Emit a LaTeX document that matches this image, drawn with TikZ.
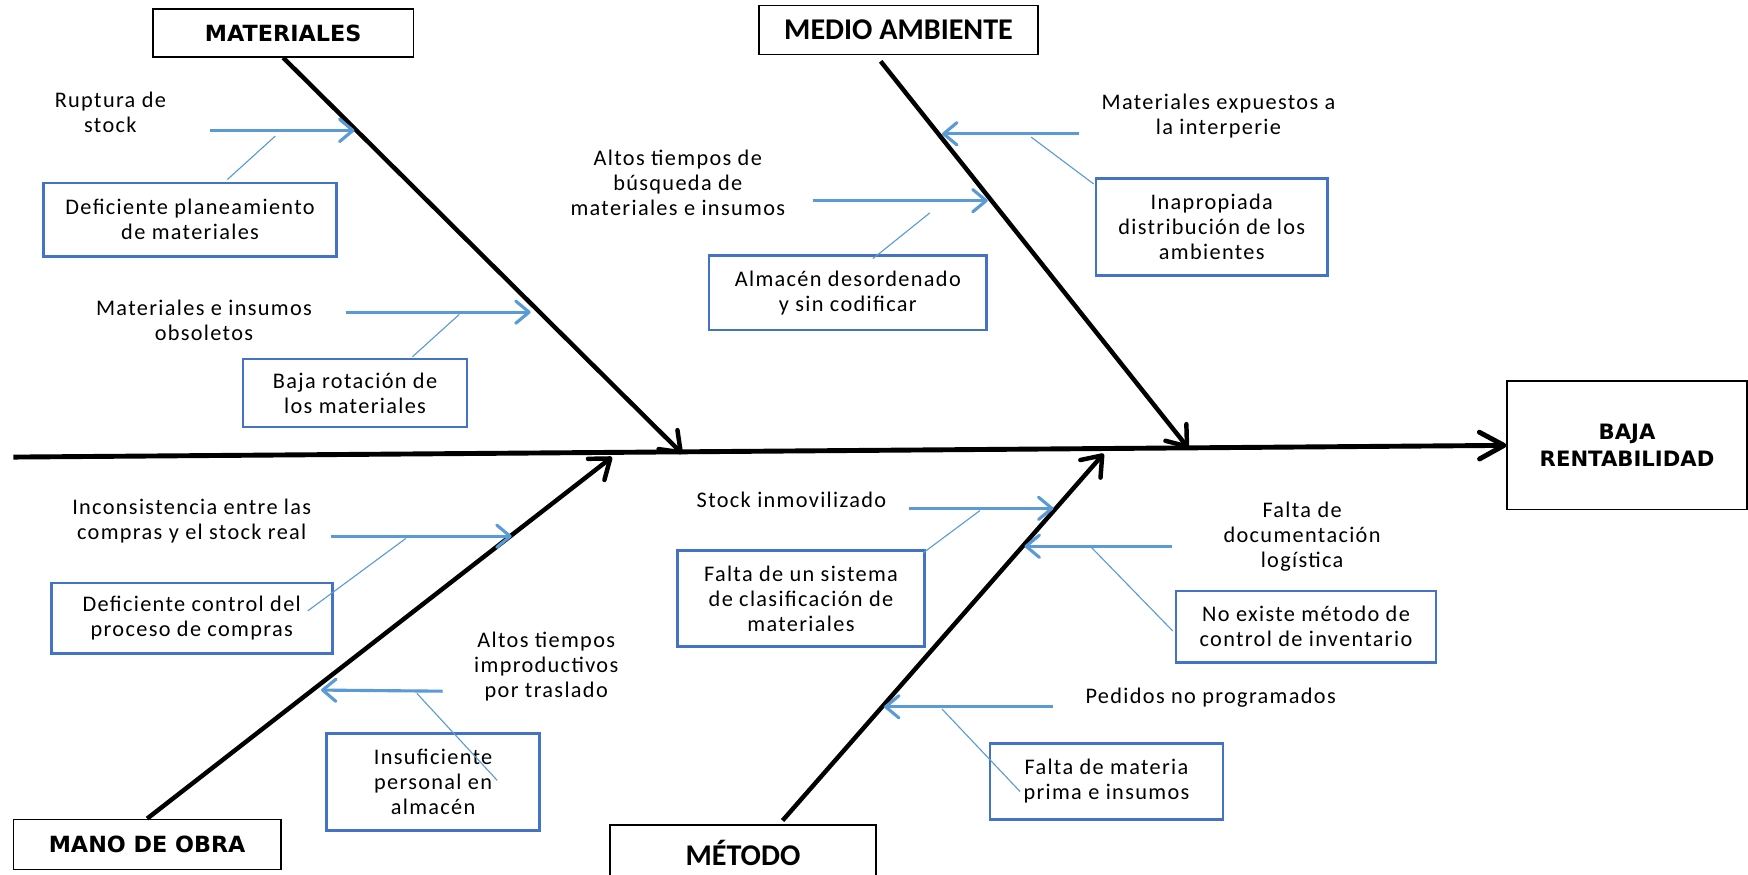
\documentclass[tikz,border=0pt]{standalone}
\usepackage{fontspec}
\setmainfont{Carlito}
\newfontfamily\spaced{Carlito}[LetterSpace=6]
\newfontfamily\dejav{DejaVu Sans}
\usetikzlibrary{arrows.meta}
\definecolor{arrowblue}{RGB}{91,155,213}
\definecolor{boxblue}{RGB}{68,114,196}
\begin{document}
\begin{tikzpicture}[x=0.5pt,y=-0.5pt,
  bone/.style={line width=2pt,-{Straight Barb[length=8pt,width=12pt,line width=2pt,round]}},
  spine/.style={line width=2.2pt,-{Straight Barb[length=11pt,width=12pt,line width=2.2pt,round]}},
  subarrow/.style={arrowblue,line width=1.4pt,-{Straight Barb[length=6pt,width=10pt,line width=1.4pt,round]}},
  thinlink/.style={arrowblue,line width=0.5pt},
  headbox/.style={draw=black,line width=0.7pt,inner sep=0pt,align=center},
  bluebox/.style={draw=boxblue,line width=1.2pt,inner sep=0pt,align=center,font=\spaced\fontsize{10}{11.2}\selectfont},
  lbl/.style={inner sep=0pt,align=center,font=\spaced\fontsize{10}{11.2}\selectfont},
]
\useasboundingbox (0,0) rectangle (1568,784);
\fill[white] (0,0) rectangle (1568,784);

% ---------- heading boxes ----------
\node[headbox,minimum width=117pt,minimum height=21.5pt,font=\dejav\bfseries\fontsize{10}{11}\selectfont] (mat) at (254,29.5) {MATERIALES};
\node[headbox,minimum width=125pt,minimum height=22pt,font=\bfseries\fontsize{13.5}{14}\selectfont] (med) at (806,27) {MEDIO AMBIENTE};
\node[headbox,minimum width=120pt,minimum height=22.5pt,font=\dejav\bfseries\fontsize{10}{11}\selectfont] (mano) at (132,757.5) {MANO DE OBRA};
\node[headbox,minimum width=119.5pt,minimum height=25pt,font=\bfseries\fontsize{13.5}{14}\selectfont] (met) at (666.5,765) {MÉTODO};
\node[headbox,minimum width=107.5pt,minimum height=57.5pt,font=\dejav\bfseries\fontsize{9.5}{12}\selectfont] (baja) at (1459.5,399.5) {BAJA\\RENTABILIDAD};

% ---------- spine ----------
\coordinate (sL) at (12,410);
\draw[spine] (sL) -- (baja.west);

% ---------- main bones ----------
\coordinate (matT) at (612,407);
\coordinate (medS) at (790,55);
\coordinate (medT) at (1066,402);
\coordinate (manoT) at (549,410);
\coordinate (metS) at (702,736);
\coordinate (metT) at (990,407);
\draw[bone] (mat.south) -- (matT);
\draw[bone] (medS) -- (medT);
\draw[bone] (mano.north) -- (manoT);
\draw[bone] (metS) -- (metT);

% ---------- cause boxes ----------
\node[bluebox,minimum width=131.5pt,minimum height=33pt] (b1) at (170.5,197) {Deficiente planeamiento\\de materiales};
\node[bluebox,minimum width=100.5pt,minimum height=30.5pt] (b2) at (318.5,352.5) {Baja rotación de\\los materiales};
\node[bluebox,minimum width=104pt,minimum height=43.5pt] (b3) at (1087,203.5) {Inapropiada\\distribución de los\\ambientes};
\node[bluebox,minimum width=124.5pt,minimum height=33.5pt] (b4) at (760.5,262.5) {Almacén desordenado\\y sin codificar};
\node[bluebox,minimum width=126pt,minimum height=31.5pt] (b5) at (172,554.5) {Deficiente control del\\proceso de compras};
\node[bluebox,minimum width=95.5pt,minimum height=43.5pt] (b6) at (388.5,701.5) {Insuficiente\\personal en\\almacén};
\node[bluebox,minimum width=110.5pt,minimum height=43pt] (b7) at (718.5,537) {Falta de un sistema\\de clasificación de\\materiales};
\node[bluebox,minimum width=116.5pt,minimum height=32pt] (b8) at (1171.5,562) {No existe método de\\control de inventario};
\node[bluebox,minimum width=104.5pt,minimum height=34pt] (b9) at (992.5,701) {Falta de materia\\prima e insumos};

% ---------- sub-cause labels ----------
\node[lbl] (t1) at (99,101) {Ruptura de\\stock};
\node[lbl] (t2) at (183,287) {Materiales e insumos\\obsoletos};
\node[lbl] (t3) at (1093,104) {Materiales expuestos a\\la interperie};
\node[lbl] (t4) at (608,164) {Altos tiempos de\\búsqueda de\\materiales e insumos};
\node[lbl] (t5) at (172,467) {Inconsistencia entre las\\compras y el stock real};
\node[lbl] (t6) at (490,598) {Altos tiempos\\improductivos\\por traslado};
\node[lbl] (t7) at (710,448) {Stock inmovilizado};
\node[lbl] (t8) at (1168,481) {Falta de\\documentación\\logística};
\node[lbl] (t9) at (1086,626) {Pedidos no programados};

% ---------- sub-arrows ----------
\coordinate (a1s) at (188,117); \coordinate (a1t) at (318,117);
\coordinate (a2s) at (310,280); \coordinate (a2t) at (476,280);
\coordinate (a3s) at (968,120); \coordinate (a3t) at (845,120);
\coordinate (a4s) at (729,180); \coordinate (a4t) at (886,180);
\coordinate (a5s) at (297,481); \coordinate (a5t) at (459,481);
\coordinate (a6s) at (397,620); \coordinate (a6t) at (288,619);
\coordinate (a7s) at (815,456); \coordinate (a7t) at (945,456);
\coordinate (a8s) at (1051,490); \coordinate (a8t) at (919,490);
\coordinate (a9s) at (945,634); \coordinate (a9t) at (793,634);
\foreach \i in {1,...,9} {\draw[subarrow] (a\i s) -- (a\i t);}

% ---------- thin links ----------
\coordinate (l1s) at (247,122); \coordinate (l1t) at (204,161);
\coordinate (l2s) at (412,282); \coordinate (l2t) at (370,320);
\coordinate (l3s) at (925,123); \coordinate (l3t) at (981,165);
\coordinate (l4s) at (834,191); \coordinate (l4t) at (783,232);
\coordinate (l5s) at (364,483); \coordinate (l5t) at (276,548);
\coordinate (l6s) at (374,622); \coordinate (l6t) at (446,700);
\coordinate (l7s) at (879,458); \coordinate (l7t) at (828,496);
\coordinate (l8s) at (979,491); \coordinate (l8t) at (1052,566);
\coordinate (l9s) at (845,636); \coordinate (l9t) at (915,710);
\foreach \i in {1,...,9} {\draw[thinlink] (l\i s) -- (l\i t);}
\end{tikzpicture}
\end{document}
